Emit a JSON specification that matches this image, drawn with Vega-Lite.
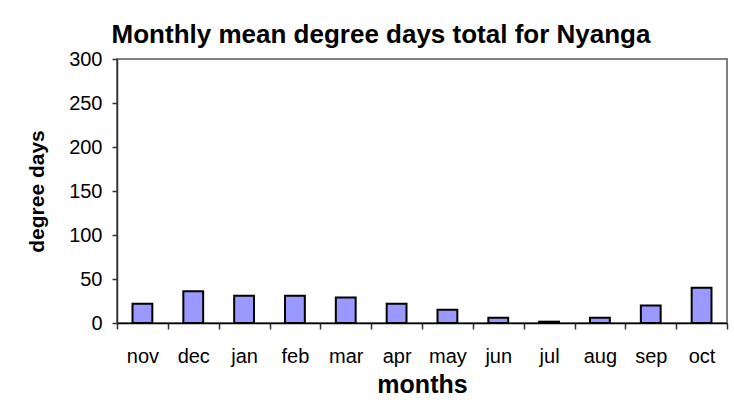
{
  "$schema": "https://vega.github.io/schema/vega-lite/v6.json",
  "width": 610,
  "height": 264,
  "autosize": {"type": "none"},
  "padding": {"left": 117, "top": 59, "right": 7, "bottom": 81},
  "background": "white",
  "title": {
    "text": "Monthly mean degree days total for Nyanga",
    "font": "Liberation Sans",
    "fontSize": 26,
    "fontWeight": "bold",
    "color": "black",
    "anchor": "middle",
    "dx": -41,
    "offset": 1
  },
  "data": {
    "values": [
      {"month": "nov", "dd": 22},
      {"month": "dec", "dd": 36},
      {"month": "jan", "dd": 31},
      {"month": "feb", "dd": 31},
      {"month": "mar", "dd": 29},
      {"month": "apr", "dd": 22},
      {"month": "may", "dd": 15},
      {"month": "jun", "dd": 6},
      {"month": "jul", "dd": 1.5},
      {"month": "aug", "dd": 6},
      {"month": "sep", "dd": 20},
      {"month": "oct", "dd": 40}
    ]
  },
  "mark": {
    "type": "bar",
    "fill": "#9999FF",
    "stroke": "black",
    "strokeWidth": 2,
    "width": {"band": 0.39}
  },
  "encoding": {
    "x": {
      "field": "month",
      "type": "nominal",
      "sort": null,
      "scale": {"paddingInner": 0, "paddingOuter": 0},
      "axis": {
        "title": "months",
        "titleFont": "Liberation Sans",
        "titleFontSize": 25,
        "titleFontWeight": "bold",
        "titleColor": "black",
        "titlePadding": 6,
        "labelFont": "Liberation Sans",
        "labelFontSize": 20,
        "labelColor": "black",
        "labelAngle": 0,
        "labelPadding": 17,
        "tickBand": "extent",
        "tickSize": 6,
        "tickColor": "#333",
        "tickWidth": 1.5,
        "domainColor": "black",
        "domainWidth": 1.5
      }
    },
    "y": {
      "field": "dd",
      "type": "quantitative",
      "scale": {"domain": [0, 300]},
      "axis": {
        "title": "degree days",
        "titleFont": "Liberation Sans",
        "titleFontSize": 21,
        "titleFontWeight": "bold",
        "titleColor": "black",
        "titlePadding": 21,
        "labelFont": "Liberation Sans",
        "labelFontSize": 20,
        "labelColor": "black",
        "labelPadding": 10,
        "values": [0, 50, 100, 150, 200, 250, 300],
        "grid": false,
        "tickSize": 5,
        "tickColor": "#333",
        "tickWidth": 1.5,
        "domainColor": "#333",
        "domainWidth": 1.5
      }
    }
  },
  "config": {
    "view": {"stroke": "#808080", "strokeWidth": 2}
  }
}
